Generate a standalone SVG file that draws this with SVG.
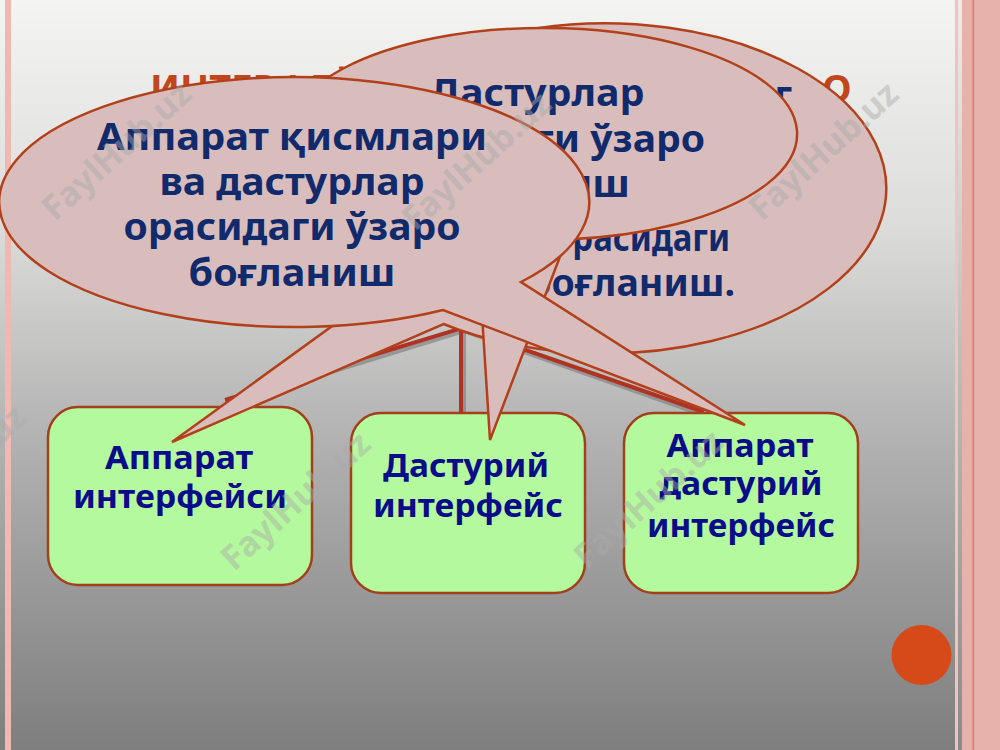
<svg xmlns="http://www.w3.org/2000/svg" width="1000" height="750" viewBox="0 0 1000 750">
<defs>
<linearGradient id="bg" x1="0" y1="0" x2="0" y2="1">
<stop offset="0" stop-color="#f4f4f2"/>
<stop offset="0.3" stop-color="#dcdcdb"/>
<stop offset="0.6" stop-color="#b0b0b0"/>
<stop offset="1" stop-color="#7e7e7e"/>
</linearGradient>
<linearGradient id="strip" x1="0" y1="0" x2="0" y2="1">
<stop offset="0" stop-color="#efece8"/>
<stop offset="1" stop-color="#8a8a8a"/>
</linearGradient>
<style>
.call{fill:#d8bdbc;stroke:#b2401a;stroke-width:2.5;stroke-linejoin:miter}
.box{fill:#b4f99d;stroke:#a3401c;stroke-width:2.5}
.ct{font-family:"Noto Sans","DejaVu Sans",sans-serif;font-weight:bold;font-size:37px;fill:#112a6c}
.bt{font-family:"Noto Sans","DejaVu Sans",sans-serif;font-weight:bold;font-size:32px;fill:#0c0c8a;text-anchor:middle}
.title{font-family:"Noto Sans","DejaVu Sans",sans-serif;font-weight:bold;font-size:38px;fill:#c2461c}
.tree{stroke:#b03222;stroke-width:4;fill:none}
.sh{stroke:#7a7a7a;stroke-width:4;fill:none;opacity:0.6}
.wm{font-family:"Noto Sans","DejaVu Sans",sans-serif;font-weight:bold;font-size:34px;fill:#ababab;opacity:0.45}
</style>
</defs>
<rect width="1000" height="750" fill="url(#bg)"/>
<rect x="5" y="0" width="6" height="750" fill="#efb8b0"/>
<rect x="955" y="0" width="45" height="750" fill="#e6b2ab"/>
<rect x="955" y="0" width="3" height="750" fill="#f0c4bc"/>
<rect x="958" y="0" width="4" height="750" fill="url(#strip)"/>
<rect x="972.5" y="0" width="1.6" height="750" fill="#dc7d6c"/>

<g id="title">
<text class="title" x="150" y="102">ИНТЕРФЕЙС</text>
<text class="title" x="822" y="102">О</text>
</g>

<g id="connectors">
<polyline class="sh" points="228,404 464,331 706,416"/>
<line class="sh" x1="464" y1="331" x2="464" y2="414"/>
<polyline class="tree" points="225,400 462,328 704,412"/>
<line class="tree" x1="461" y1="328" x2="461" y2="413"/>
</g>

<g id="box1">
<rect class="box" x="48" y="407" width="264" height="178" rx="30"/>
<text class="bt" x="179" y="469" textLength="148" lengthAdjust="spacingAndGlyphs">Аппарат</text>
<text class="bt" x="180" y="508" textLength="214" lengthAdjust="spacingAndGlyphs">интерфейси</text>
</g>
<g id="box2">
<rect class="box" x="351" y="413" width="234" height="180" rx="30"/>
<text class="bt" x="466" y="477" textLength="166" lengthAdjust="spacingAndGlyphs">Дастурий</text>
<text class="bt" x="468" y="517" textLength="190" lengthAdjust="spacingAndGlyphs">интерфейс</text>
</g>
<g id="box3">
<rect class="box" x="624" y="413" width="234" height="180" rx="30"/>
<text class="bt" x="740" y="457" textLength="147" lengthAdjust="spacingAndGlyphs">Аппарат</text>
<text class="bt" x="741" y="495" textLength="163" lengthAdjust="spacingAndGlyphs">дастурий</text>
<text class="bt" x="741" y="537" textLength="188" lengthAdjust="spacingAndGlyphs">интерфейс</text>
</g>

<g id="callout-back">
<path class="call" d="M 443.5 324 A 282 165 0 1 0 382 290 L 172 442 Z"/>
<text class="ct" x="792" y="108" text-anchor="end">г</text>
<text class="ct" x="730" y="251" text-anchor="end" textLength="178" lengthAdjust="spacingAndGlyphs">орасидаги</text>
<text class="ct" x="735" y="296" text-anchor="end" textLength="207" lengthAdjust="spacingAndGlyphs">боғланиш.</text>
</g>

<g id="callout-middle">
<path class="call" d="M 566.5 239.5 A 254 106 0 1 0 477 236.3 L 490 440 Z"/>
<text class="ct" x="537" y="106" text-anchor="middle" textLength="215" lengthAdjust="spacingAndGlyphs">Дастурлар</text>
<text class="ct" x="705" y="152" text-anchor="end" textLength="337" lengthAdjust="spacingAndGlyphs">орасидаги ўзаро</text>
<text class="ct" x="630" y="197" text-anchor="end" textLength="207" lengthAdjust="spacingAndGlyphs">боғланиш</text>
</g>

<g id="callout-front">
<path class="call" d="M 521 282 A 295 125 0 1 0 443 310 L 745 425 Z"/>
<text class="ct" x="292" y="150" text-anchor="middle" textLength="390" lengthAdjust="spacingAndGlyphs">Аппарат қисмлари</text>
<text class="ct" x="292" y="195" text-anchor="middle" textLength="265" lengthAdjust="spacingAndGlyphs">ва дастурлар</text>
<text class="ct" x="292" y="240" text-anchor="middle" textLength="337" lengthAdjust="spacingAndGlyphs">орасидаги ўзаро</text>
<text class="ct" x="292" y="286" text-anchor="middle" textLength="207" lengthAdjust="spacingAndGlyphs">боғланиш</text>
</g>

<circle id="dot" cx="921.5" cy="655" r="30" fill="#d54a18"/>

<g id="watermarks">
<text class="wm" x="55" y="222" transform="rotate(-42 55 222)">FaylHub.uz</text>
<text class="wm" x="415" y="232" transform="rotate(-42 415 232)">FaylHub.uz</text>
<text class="wm" x="762" y="222" transform="rotate(-42 762 222)">FaylHub.uz</text>
<text class="wm" x="-110" y="545" transform="rotate(-42 -110 545)">FaylHub.uz</text>
<text class="wm" x="234" y="572" transform="rotate(-42 234 572)">FaylHub.uz</text>
<text class="wm" x="587" y="570" transform="rotate(-42 587 570)">FaylHub.uz</text>
</g>
</svg>
